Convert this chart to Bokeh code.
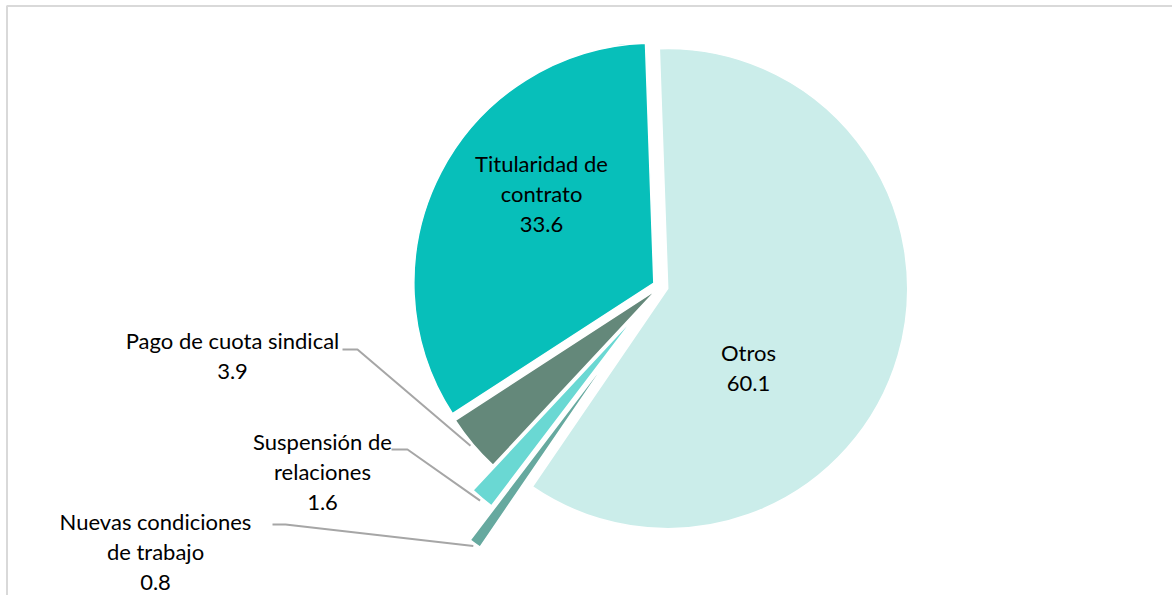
import math
from bokeh.plotting import figure
from bokeh.models import Range1d, ColumnDataSource
from bokeh.core.properties import value
from bokeh.embed import file_html
from bokeh.resources import INLINE

# ---- data ----
categories = ["Otros", "Nuevas condiciones de trabajo", "Suspensión de relaciones",
              "Pago de cuota sindical", "Titularidad de contrato"]
values = [60.1, 0.8, 1.6, 3.9, 33.6]
label_names = ["Otros", "Nuevas condiciones\nde trabajo", "Suspensión de\nrelaciones",
               "Pago de cuota sindical", "Titularidad de\ncontrato"]

# ---- style / layout ----
colors = ["#CBEDEA", "#66A99F", "#6AD8D3", "#64887A", "#07BFBA"]
explode = [7.5, 77, 37, 5, 7.5]          # px offset of each slice
first_angle = -2.0                       # degrees clockwise from 12 o'clock
W, H = 1172, 595
CX, CY, R = 660.0, 286.0, 240.0          # pie centre in page pixels
label_pos = [(748, 367), (155, 551), (322, 471), (232, 355), (541, 193)]
leader_start = {1: [(272, 524), (285, 524)], 2: [(391, 449), (407, 449)], 3: [(342, 349), (357, 349)]}
FONT = "Lato"
FSIZE = "22px"

def Y(y):
    return H - y

p = figure(width=W, height=H, output_backend="svg", toolbar_location=None,
           x_range=Range1d(0, W), y_range=Range1d(0, H),
           min_border=0, outline_line_color=None)
p.axis.visible = False
p.grid.visible = False
p.background_fill_color = "white"

total = sum(values)
cum = first_angle
wx, wy, sa, ea, fc = [], [], [], [], []
mids = []
for i, v in enumerate(values):
    a0 = cum
    a1 = cum + v / total * 360.0
    cum = a1
    bis = math.radians((a0 + a1) / 2)
    dx, dy = math.sin(bis), -math.cos(bis)
    tx, ty = CX + explode[i] * dx, CY + explode[i] * dy
    wx.append(tx)
    wy.append(Y(ty))
    sa.append(math.radians(90 - a0))
    ea.append(math.radians(90 - a1))
    fc.append(colors[i])
    mids.append((tx + (R + 3) * dx, ty + (R + 3) * dy))

src = ColumnDataSource(dict(x=wx, y=wy, start=sa, end=ea, color=fc, cat=categories))
p.wedge(x="x", y="y", radius=R, start_angle="start", end_angle="end", direction="clock",
        fill_color="color", line_color="white", line_width=1.5, source=src)

# leader lines
xs, ys = [], []
for i, pts in leader_start.items():
    pts = pts + [mids[i]]
    xs.append([q[0] for q in pts])
    ys.append([Y(q[1]) for q in pts])
p.multi_line(xs=xs, ys=ys, line_color="#A6A6A6", line_width=2)

# labels
texts = [f"{n}\n{v:.1f}" for n, v in zip(label_names, values)]
lsrc = ColumnDataSource(dict(x=[q[0] for q in label_pos], y=[Y(q[1]) for q in label_pos], t=texts))
p.text(x="x", y="y", text="t", source=lsrc, text_align="center", text_baseline="middle",
       text_font=value(FONT), text_font_size=FSIZE, text_color="#000000", text_line_height=1.1)

# chart area border (left and top visible)
p.line(x=[6.5, 6.5, W], y=[0, Y(5.5), Y(5.5)], line_color="#D9D9D9", line_width=2)

open("out.html", "w").write(file_html(p, INLINE))
